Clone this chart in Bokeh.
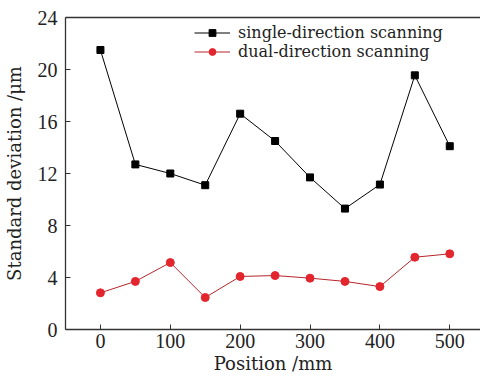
from bokeh.plotting import figure
from bokeh.models import Legend, LegendItem, LinearAxis, FixedTicker, Range1d
from bokeh.embed import file_html
from bokeh.resources import INLINE

positions = [0, 50, 100, 150, 200, 250, 300, 350, 400, 450, 500]
single_dir = [21.5, 12.7, 12.0, 11.1, 16.6, 14.5, 11.7, 9.3, 11.15, 19.55, 14.1]
dual_dir = [2.82, 3.7, 5.15, 2.46, 4.08, 4.15, 3.95, 3.7, 3.3, 5.56, 5.82]
x_ticks = [0, 100, 200, 300, 400, 500]
y_ticks = [0, 4, 8, 12, 16, 20, 24]

TICK_FONT = "Liberation Serif"
LABEL_FONT = "DejaVu Serif"

p = figure(width=480, height=378, output_backend="svg", toolbar_location=None,
           x_range=Range1d(-50, 544), y_range=Range1d(0, 24),
           min_border_left=64, min_border_top=17, min_border_bottom=49, min_border_right=0)
p.outline_line_color = None
p.xgrid.visible = False
p.ygrid.visible = False
p.background_fill_color = "white"
p.border_fill_color = "white"

for ax in (p.xaxis[0], p.yaxis[0]):
    ax.major_tick_in = 5
    ax.major_tick_out = 0
    ax.minor_tick_line_color = None
    ax.axis_line_color = "#333333"
    ax.axis_line_width = 1.3
    ax.major_tick_line_color = "#333333"
    ax.major_label_text_font = TICK_FONT
    ax.major_label_text_font_size = "20px"
    ax.major_label_text_color = "#222222"
    ax.axis_label_text_font = LABEL_FONT
    ax.axis_label_text_font_size = "18px"
    ax.axis_label_text_font_style = "normal"
    ax.axis_label_text_color = "#222222"

p.xaxis[0].major_label_standoff = 4
p.xaxis[0].axis_label_standoff = 2
p.yaxis[0].major_label_standoff = 8
p.yaxis[0].axis_label_standoff = 10

p.xaxis[0].ticker = FixedTicker(ticks=x_ticks)
p.yaxis[0].ticker = FixedTicker(ticks=y_ticks)
p.xaxis.axis_label = "Position /mm"
p.yaxis.axis_label = "Standard deviation /\u03bcm"

top = LinearAxis(ticker=FixedTicker(ticks=[]), major_label_text_font_size="0px",
                 axis_line_color="#333333", axis_line_width=1.3,
                 major_tick_line_color=None, minor_tick_line_color=None)
p.add_layout(top, "above")

l1 = p.line(positions, single_dir, line_color="black", line_width=1)
s1 = p.scatter(positions, single_dir, marker="square", size=7, fill_color="black", line_color="black")
l2 = p.line(positions, dual_dir, line_color="#b5262b", line_width=1)
s2 = p.scatter(positions, dual_dir, marker="circle", size=8, fill_color="#e3252d", line_color="#e3252d")

legend = Legend(items=[
    LegendItem(label="single-direction scanning", renderers=[l1, s1]),
    LegendItem(label="dual-direction scanning", renderers=[l2, s2]),
], location=(129, 268))
legend.border_line_color = None
legend.background_fill_alpha = 0
legend.padding = 0
legend.margin = 0
legend.spacing = -2
legend.glyph_width = 36
legend.glyph_height = 17
legend.label_height = 17
legend.label_standoff = 8
legend.label_text_font = LABEL_FONT
legend.label_text_font_size = "16px"
legend.label_text_color = "#222222"
p.add_layout(legend, "center")

open("out.html", "w").write(file_html(p, INLINE))
